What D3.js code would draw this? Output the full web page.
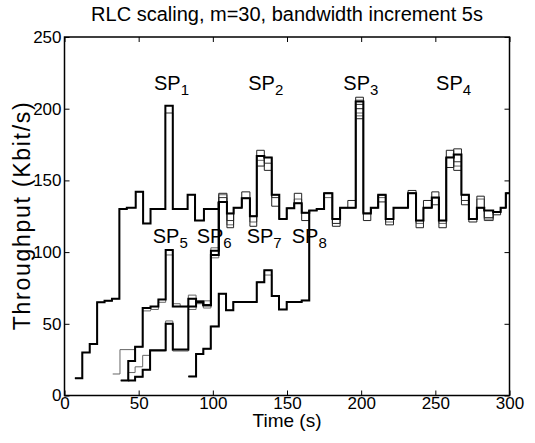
<!DOCTYPE html>
<html lang="en">
<head>
<meta charset="UTF-8">
<title>RLC scaling</title>
<script src="https://cdnjs.cloudflare.com/ajax/libs/d3/7.8.5/d3.min.js"></script>
<style>
  body { margin: 0; background: #fff; }
  svg { display: block; font-family: "Liberation Sans", Arial, Helvetica, sans-serif; }
  text { fill: #000; }
</style>
</head>
<body>
<div id="wrapper"></div>
<script>
// flow 1: start of each step (s) and its rate (Kbit/s), runs to 300 s
const mainT = [7, 12, 17, 22, 27, 32, 37, 42, 48, 53, 58, 68, 73, 83, 88, 94, 104, 109.5, 114, 119.5,
  125, 129.6, 134.7, 139.7, 144.8, 149.8, 154.9, 159.9, 165, 170, 175, 180.6, 185.8, 191, 196.3, 201.5,
  206.5, 211.5, 216.5, 221.8, 226.5, 231.6, 237, 242, 247.6, 252.4, 257.4, 262.4, 267.6, 272.6, 278, 283,
  289, 294, 297.5]
const mainV = [12, 30, 36, 65, 66, 67.5, 130, 131, 142, 120, 130, 202, 130, 140, 122, 130, 135, 127, 131, 137.5,
  125, 167, 166, 140, 123, 130.5, 134, 127.5, 129, 130, 141, 123, 131, 131, 205, 127,
  131, 140, 123, 131, 131, 141, 122, 131, 138, 122, 166, 168, 140, 123, 131, 129,
  128, 131, 141]

// flows that join flow 1 later (values before they join)
const flow2T = [37.9, 43, 47.6, 52.7, 58, 63.3, 68.2, 73, 83.5, 88.7, 93.6, 98.7]
const flow2V = [10.5, 24, 34, 61, 62, 67, 101.5, 62, 67.5, 65, 63, 101]
const flow3T = [43, 47.6, 52.7, 57.7, 68.2, 73, 83.5, 88.7, 93.6, 98.7]
const flow3V = [10.5, 13, 18, 31.5, 50, 32, 62, 65.5, 63, 98]
const flow4T = [83.5, 88.7, 93.6, 98.6, 104, 108.9, 113.8, 129.6, 134.7, 139.7, 144.6, 149.8, 159.9]
const flow4V = [13.3, 29, 32.6, 48.2, 71, 59.4, 65.2, 79, 87.3, 69.4, 60, 65.2, 66.3]
const joinAt = [104, 104, 165]

// other runs of the same experiment (thin grey)
const run1T = [32.5, 37.4, 47.6, 52.7, 58, 63.3, 68.2, 73, 78, 83.5, 88.7, 93.6, 98.7]
const run1V = [15, 32, 34, 59, 60, 65, 98, 64, 62, 70, 66, 61, 96]
const run2T = [38.5, 43, 47.6, 52.7, 57.7, 68.2, 73, 83.5, 88.7, 93.6, 98.7]
const run2V = [10.5, 16, 20, 28, 31, 52, 31, 60, 64, 66, 103]
const run3T = [83.5, 88.7, 93.6, 98.6, 104, 108.9, 113.8, 129.6, 134.7, 139.7, 144.6, 149.8, 159.9]
const run3V = [13.3, 29, 32.6, 48.2, 71, 59.4, 65.2, 79, 84, 69.4, 60, 65.2, 66.3]

// where a run differs from flow 1 after joining (step start -> rate)
const flow2Diff = {104: 141, 109.5: 117, 129.6: 171, 134.7: 157, 154.9: 141, 180.6: 118, 196.3: 208, 211.5: 135, 237: 117, 257.4: 171, 262.4: 157, 283: 124}
const flow3Diff = {119.5: 142, 125: 118, 129.6: 160, 139.7: 132, 159.9: 122, 191: 136, 196.3: 200, 216.5: 119, 247.6: 142, 262.4: 172, 267.6: 133, 278: 139}
const flow4Diff = {175: 141, 180.6: 120, 196.3: 193, 201.5: 122, 231.6: 143, 242: 136, 252.4: 117, 257.4: 159, 272.6: 121, 289: 126}
const mainRunDiff = {68: 197, 104: 138, 109.5: 122, 134.7: 162, 139.7: 138, 196.3: 203, 247.6: 133, 262.4: 163, 283: 122, 267.6: 136}
const run1Diff = {104: 140, 129.6: 164, 154.9: 137, 196.3: 197, 211.5: 138, 237: 120}
const run2Diff = {109.5: 119, 125: 121, 196.3: 195, 216.5: 121, 252.4: 120, 262.4: 160}
const run3Diff = {175: 138, 196.3: 206, 278: 137, 283: 123}

const xTicks = [0, 50, 100, 150, 200, 250, 300]
const yTicks = [0, 50, 100, 150, 200, 250]
const spNames = ['1', '2', '3', '4', '5', '6', '7', '8']
const spAt = [[60.3, 213], [123.9, 213], [188, 213], [250.5, 213], [59.5, 106.5], [89.1, 106.5], [122.8, 106.5], [153.2, 106.5]]

function drawChart() {
    const dimensions = {
        width: 535,
        height: 443,
        margin: { top: 37, right: 25.5, bottom: 47.5, left: 64.5 }
    }
    dimensions.boundedWidth = dimensions.width - dimensions.margin.left - dimensions.margin.right
    dimensions.boundedHeight = dimensions.height - dimensions.margin.top - dimensions.margin.bottom

    const svg = d3.select('#wrapper')
        .append('svg')
            .attr('width', dimensions.width)
            .attr('height', dimensions.height)

    svg.append('rect')
        .attr('width', dimensions.width)
        .attr('height', dimensions.height)
        .attr('fill', '#fff')

    const bounds = svg.append('g')
        .attr('transform', `translate(${dimensions.margin.left},${dimensions.margin.top})`)

    const xScale = d3.scaleLinear().domain([0, 300]).range([0, dimensions.boundedWidth])
    const yScale = d3.scaleLinear().domain([0, 250]).range([dimensions.boundedHeight, 0])

    const line = d3.line()
        .x(d => xScale(d[0]))
        .y(d => yScale(d[1]))
        .curve(d3.curveStepAfter)

    // steps before joining, then flow 1's steps (with this run's own differences)
    const series = (times, values, joinT, diff) => {
        const pts = times.map((t, i) => [t, values[i]])
        mainT.forEach((t, i) => {
            if (t >= joinT) pts.push([t, diff[t] !== undefined ? diff[t] : mainV[i]])
        })
        pts.push([300, pts[pts.length - 1][1]])
        return pts
    }
    const before = (times, values, joinT) => {
        const pts = times.map((t, i) => [t, values[i]])
        pts.push([joinT, mainV[mainT.indexOf(joinT)]])
        return pts
    }

    const plot = bounds.append('g')

    const thin = [
        [series(run1T, run1V, joinAt[0], run1Diff), '#666'],
        [series(run2T, run2V, joinAt[1], run2Diff), '#666'],
        [series(run3T, run3V, joinAt[2], run3Diff), '#666'],
        [series([], [], 7, mainRunDiff), '#333'],
        [series(flow2T, flow2V, joinAt[0], flow2Diff), '#222'],
        [series(flow3T, flow3V, joinAt[1], flow3Diff), '#222'],
        [series(flow4T, flow4V, joinAt[2], flow4Diff), '#222']
    ]
    thin.forEach(([pts, color]) => {
        plot.append('path')
            .attr('d', line(pts))
            .attr('fill', 'none')
            .attr('stroke', color)
            .attr('stroke-width', 1)
    })

    const thick = [
        series([], [], 7, {}),
        before(flow2T, flow2V, joinAt[0]),
        before(flow3T, flow3V, joinAt[1]),
        before(flow4T, flow4V, joinAt[2])
    ]
    thick.forEach(pts => {
        plot.append('path')
            .attr('d', line(pts))
            .attr('fill', 'none')
            .attr('stroke', '#000')
            .attr('stroke-width', 2)
    })

    // axes, ticks pointing inwards like matlab
    const xAxis = bounds.append('g')
        .attr('transform', `translate(0,${dimensions.boundedHeight})`)
        .call(d3.axisBottom(xScale).tickValues(xTicks).tickSize(-5).tickPadding(1).tickSizeOuter(0))
    const xTop = bounds.append('g')
        .call(d3.axisTop(xScale).tickValues(xTicks).tickSize(-5).tickFormat('').tickSizeOuter(0))
    const yAxis = bounds.append('g')
        .call(d3.axisLeft(yScale).tickValues(yTicks).tickSize(-5).tickPadding(3).tickSizeOuter(0))
    const yRight = bounds.append('g')
        .attr('transform', `translate(${dimensions.boundedWidth},0)`)
        .call(d3.axisRight(yScale).tickValues(yTicks).tickSize(-5).tickFormat('').tickSizeOuter(0))

    ;[xAxis, xTop, yAxis, yRight].forEach(a => {
        a.select('.domain').remove()
        a.selectAll('.tick line').attr('stroke', '#000').attr('stroke-width', 1)
        a.selectAll('text')
            .attr('fill', '#000')
            .style('font-size', '17px')
            .style('font-family', '"Liberation Sans", Arial, sans-serif')
    })

    bounds.append('rect')
        .attr('width', dimensions.boundedWidth)
        .attr('height', dimensions.boundedHeight)
        .attr('fill', 'none')
        .attr('stroke', '#000')
        .attr('stroke-width', 1.5)

    // SP labels
    bounds.selectAll('.sp')
        .data(spNames)
        .join('text')
            .attr('class', 'sp')
            .attr('x', (d, i) => xScale(spAt[i][0]))
            .attr('y', (d, i) => yScale(spAt[i][1]))
            .style('font-size', '20px')
            .text('SP')
        .append('tspan')
            .attr('dy', 5)
            .style('font-size', '15px')
            .text(d => d)

    svg.append('text')
        .attr('x', dimensions.margin.left + dimensions.boundedWidth / 2)
        .attr('y', 21)
        .attr('text-anchor', 'middle')
        .style('font-size', '20px')
        .text('RLC scaling, m=30, bandwidth increment 5s')

    svg.append('text')
        .attr('x', dimensions.margin.left + dimensions.boundedWidth / 2)
        .attr('y', 427)
        .attr('text-anchor', 'middle')
        .style('font-size', '19px')
        .text('Time (s)')

    svg.append('text')
        .attr('transform', `translate(30,${dimensions.margin.top + dimensions.boundedHeight / 2}) rotate(-90)`)
        .attr('text-anchor', 'middle')
        .attr('textLength', 228)
        .attr('lengthAdjust', 'spacing')
        .style('font-size', '23px')
        .text('Throughput (Kbit/s)')
}

drawChart()
</script>
</body>
</html>
